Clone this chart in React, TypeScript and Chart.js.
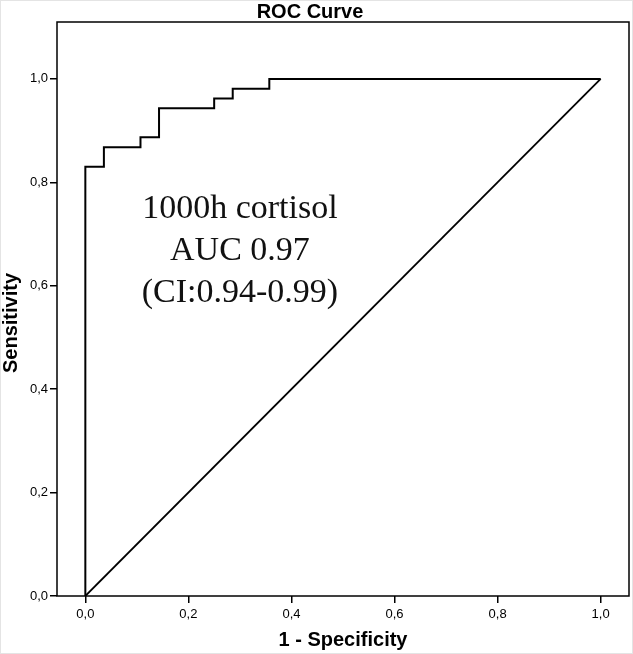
import React, { useEffect, useRef } from "react";
import { Chart, registerables } from "chart.js";

Chart.register(...registerables);

// ROC operating points (1 - specificity, sensitivity)
const rocFpr = [0, 0, 0.036, 0.107, 0.143, 0.25, 0.286, 0.357, 1];
const rocTpr = [0, 0.83, 0.868, 0.887, 0.943, 0.962, 0.981, 1, 1];
// Reference (chance) line
const refFpr = [0, 1];
const refTpr = [0, 1];
// Tick values for both axes
const tickValues = [0, 0.2, 0.4, 0.6, 0.8, 1];
const annotationLines = ["1000h cortisol", "AUC 0.97", "(CI:0.94-0.99)"];
const chartTitle = "ROC Curve";
const xTitle = "1 - Specificity";
const yTitle = "Sensitivity";

const SANS = '"Liberation Sans", Arial, Helvetica, sans-serif';
const SERIF = '"Liberation Serif", "Times New Roman", serif';

const fmt = (v: number) => v.toFixed(1).replace(".", ",");

const decorPlugin = {
  id: "decor",
  beforeDraw(chart: any) {
    const { ctx, width, height } = chart;
    ctx.save();
    ctx.fillStyle = "#ffffff";
    ctx.fillRect(0, 0, width, height);
    ctx.strokeStyle = "#e4e4e4";
    ctx.lineWidth = 1;
    ctx.strokeRect(0.5, 0.5, width - 1, height - 1);
    ctx.restore();
  },
  afterDraw(chart: any) {
    const { ctx, chartArea: a, scales } = chart;
    ctx.save();
    ctx.strokeStyle = "#000";
    ctx.lineWidth = 1.5;
    ctx.strokeRect(a.left, a.top, a.right - a.left, a.bottom - a.top);

    ctx.fillStyle = "#000";
    ctx.textAlign = "center";
    ctx.textBaseline = "alphabetic";
    ctx.font = `bold 20px ${SANS}`;
    ctx.fillText(chartTitle, 310, 18);

    ctx.fillText(xTitle, 343, 646);

    ctx.save();
    ctx.translate(11, 323);
    ctx.rotate(-Math.PI / 2);
    ctx.textBaseline = "middle";
    ctx.fillText(yTitle, 0, 0);
    ctx.restore();

    // annotation text
    ctx.font = `34px ${SERIF}`;
    ctx.fillStyle = "#111";
    const cx = scales.x.getPixelForValue(0.3);
    const y0 = scales.y.getPixelForValue(0.731);
    annotationLines.forEach((t, i) => {
      ctx.fillText(t, cx, y0 + i * 42);
    });
    ctx.restore();
  },
};

export default function App() {
  const ref = useRef<HTMLCanvasElement | null>(null);

  useEffect(() => {
    document.body.style.margin = "0";
    const canvas = ref.current;
    if (!canvas) return;
    const setTicks = (scale: any) => {
      scale.ticks = tickValues.map((v) => ({ value: v }));
    };
    const chart = new Chart(canvas, {
      type: "line",
      data: {
        datasets: [
          {
            data: rocFpr.map((x, i) => ({ x, y: rocTpr[i] })),
            borderColor: "#000",
            borderWidth: 2,
            pointRadius: 0,
            stepped: "before",
            fill: false,
          },
          {
            data: refFpr.map((x, i) => ({ x, y: refTpr[i] })),
            borderColor: "#000",
            borderWidth: 1.8,
            pointRadius: 0,
            fill: false,
          },
        ],
      },
      options: {
        animation: false,
        responsive: false,
        devicePixelRatio: 1,
        layout: { padding: { top: 22, right: 4, left: 0, bottom: 0 } },
        plugins: {
          legend: { display: false },
          tooltip: { enabled: false },
          title: { display: false },
        },
        scales: {
          x: {
            type: "linear",
            min: -0.055,
            max: 1.055,
            afterBuildTicks: setTicks,
            afterFit: (s: any) => {
              s.height = 58;
            },
            grid: {
              drawOnChartArea: false,
              drawTicks: true,
              tickLength: 7,
              color: "#000",
              lineWidth: 1.5,
            },
            border: { display: false },
            ticks: {
              color: "#000",
              font: { family: SANS, size: 13 },
              padding: 4,
              maxRotation: 0,
              callback: (v: any) => fmt(Number(v)),
            },
          },
          y: {
            type: "linear",
            min: 0,
            max: 1.11,
            afterBuildTicks: setTicks,
            afterFit: (s: any) => {
              s.width = 57;
            },
            grid: {
              drawOnChartArea: false,
              drawTicks: true,
              tickLength: 7,
              color: "#000",
              lineWidth: 1.5,
            },
            border: { display: false },
            ticks: {
              color: "#000",
              font: { family: SANS, size: 13 },
              padding: 2,
              callback: (v: any) => fmt(Number(v)),
            },
          },
        },
      },
      plugins: [decorPlugin],
    });
    return () => chart.destroy();
  }, []);

  return (
    <div style={{ position: "absolute", left: 0, top: 0, width: 633, height: 654 }}>
      <canvas ref={ref} width={633} height={654} style={{ width: 633, height: 654, display: "block" }} />
    </div>
  );
}
